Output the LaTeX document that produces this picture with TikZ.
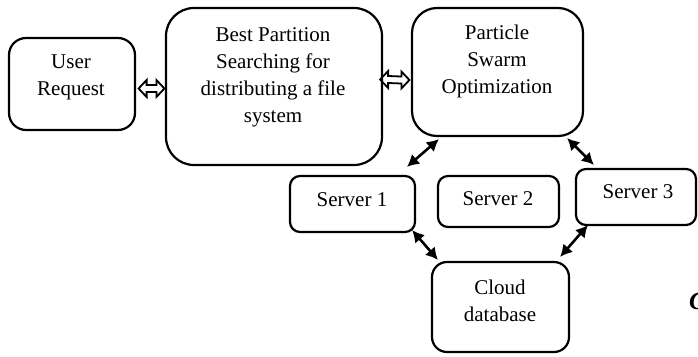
\documentclass[tikz,border=0pt]{standalone}
\usepackage{fontspec}
\setmainfont{Liberation Serif}
\usetikzlibrary{arrows.meta,calc}
\begin{document}
\begin{tikzpicture}[x=1pt,y=-1pt,
  box/.style={draw,line width=2.2pt,inner sep=0pt},
  txt/.style={font=\fontsize{21}{27}\selectfont,align=center,inner sep=0pt},
  darrow/.style={line width=2.6pt,{Latex[length=12pt,width=13pt]}-{Latex[length=12pt,width=13pt]}},
  harrow/.style={line width=1.8pt,line join=miter}]
\useasboundingbox (0,0) rectangle (698,356);
% boxes
\node[box,minimum width=126,minimum height=92,rounded corners=17] (user) at (72,84) {};
\node[box,minimum width=216,minimum height=157,rounded corners=28] (best) at (274,86.5) {};
\node[box,minimum width=171,minimum height=128,rounded corners=25] (pso) at (497.5,72) {};
\node[box,minimum width=125,minimum height=56,rounded corners=10] (s1) at (352.5,204) {};
\node[box,minimum width=121,minimum height=51,rounded corners=10] (s2) at (498.5,201.5) {};
\node[box,minimum width=120,minimum height=56,rounded corners=10] (s3) at (636,197) {};
\node[box,minimum width=137,minimum height=90,rounded corners=15] (cloud) at (500.5,307) {};
% texts
\node[txt] (userT) at (71,77) {User\\Request};
\node[txt] (bestT) at (273,77) {Best Partition\\Searching for\\distributing a file\\system};
\node[txt] (psoT) at (497,61.5) {Particle\\Swarm\\Optimization};
\node[txt] (s1T) at (352,200) {Server 1};
\node[txt] (s2T) at (498,199) {Server 2};
\node[txt] (s3T) at (638,192) {Server 3};
\node[txt] (cloudT) at (500,300.5) {Cloud\\database};
% hollow double arrows
\newcommand\hollowarrow[2]{\draw[harrow] (#1) -- ++(8,-8.5) -- ++(0,5) -- ($(#2)+(-8,-3.5)$) -- ++(0,-5) -- (#2) -- ++(-8,8.5) -- ++(0,-5) -- ($(#1)+(8,3.5)$) -- ++(0,5) -- cycle;}
\coordinate (h1a) at ($(user.east)+(2.5,4.5)$);
\coordinate (h1b) at ($(best.west)+(-0.5,2)$);
\coordinate (h2a) at ($(best.east)+(-3,-7)$);
\coordinate (h2b) at ($(pso.west)+(-1.5,8)$);
\hollowarrow{h1a}{h1b}
\hollowarrow{h2a}{h2b}
% filled double arrows
\draw[darrow] ([shift={(28,2)}]pso.south west) -- ([shift={(118,-8)}]s1.north west);
\draw[darrow] ([shift={(-17,1)}]pso.south east) -- ([shift={(19,-3)}]s3.north west);
\draw[darrow] ([shift={(-4,-3)}]s1.south east) -- ([shift={(7,-1)}]cloud.north west);
\draw[darrow] ([shift={(13,-1)}]s3.south west) -- ([shift={(-10,-4)}]cloud.north east);
% clipped caption fragment
\node[anchor=west,inner sep=0pt,font=\fontsize{25}{30}\selectfont\bfseries\itshape] (frag) at (689,301) {C};
\end{tikzpicture}
\end{document}
